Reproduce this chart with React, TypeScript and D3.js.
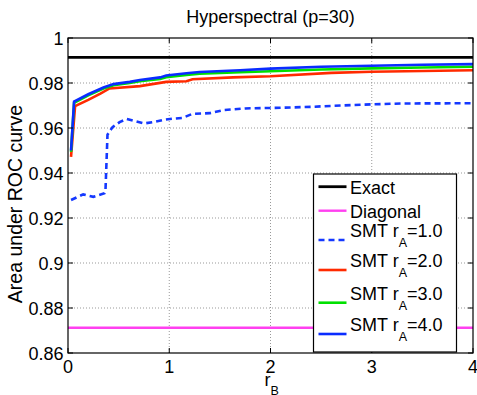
import React, { useRef, useEffect } from 'react';
import * as d3 from 'd3';

type Pt = [number, number];

// r_B vs area under ROC curve
const exactAuc = 0.9914;
const diagonalAuc = 0.8712;

const smt1: Pt[] = [
  [0.03, 0.928], [0.15, 0.9305], [0.25, 0.9294], [0.36, 0.931], [0.37, 0.932],
  [0.39, 0.957], [0.44, 0.9604], [0.51, 0.9626], [0.58, 0.964], [0.75, 0.962],
  [0.85, 0.9627], [0.95, 0.9637], [1.05, 0.9642], [1.13, 0.9645], [1.23, 0.9663],
  [1.4, 0.9666], [1.54, 0.968], [1.75, 0.9687], [2.1, 0.969], [2.4, 0.9694],
  [2.7, 0.97], [3.0, 0.9705], [3.3, 0.9709], [4.0, 0.971],
];

const smt2: Pt[] = [
  [0.03, 0.9472], [0.07, 0.9697], [0.2, 0.9725], [0.32, 0.9753], [0.41, 0.9776],
  [0.71, 0.9786], [0.97, 0.9805], [1.17, 0.9808], [1.23, 0.9817], [1.63, 0.9825],
  [2.0, 0.983], [2.6, 0.9845], [3.0, 0.985], [4.0, 0.9857],
];

const smt3: Pt[] = [
  [0.03, 0.9494], [0.06, 0.9712], [0.2, 0.9745], [0.35, 0.9775], [0.45, 0.979],
  [0.61, 0.98], [0.71, 0.9808], [0.91, 0.9818], [0.97, 0.9826], [1.17, 0.9836],
  [1.3, 0.9841], [1.7, 0.9848], [2.0, 0.9852], [2.5, 0.986], [3.0, 0.9865],
  [3.5, 0.9869], [4.0, 0.9872],
];

const smt4: Pt[] = [
  [0.03, 0.95], [0.06, 0.9717], [0.2, 0.975], [0.35, 0.978], [0.45, 0.9795],
  [0.61, 0.9805], [0.71, 0.9813], [0.91, 0.9825], [0.97, 0.9833], [1.17, 0.9843],
  [1.3, 0.9849], [1.7, 0.9857], [2.0, 0.9864], [2.5, 0.9872], [3.0, 0.9877],
  [3.5, 0.9881], [4.0, 0.9884],
];

const xTicks = [0, 1, 2, 3, 4];
const yTicks = [0.86, 0.88, 0.9, 0.92, 0.94, 0.96, 0.98, 1];

const font = "'Liberation Sans', Arial, Helvetica, sans-serif";

interface Series {
  label: string;
  sub?: string;
  subRest?: string;
  color: string;
  dashed?: boolean;
  width: number;
  data: Pt[];
}

export default function App() {
  const svgRef = useRef<SVGSVGElement>(null);

  useEffect(() => {
    if (!svgRef.current) return;
    const width = 477;
    const height = 395;
    const margin = { top: 38, right: 4, bottom: 42, left: 68 };

    const svg = d3.select(svgRef.current);
    svg.selectAll('*').remove();

    const x = d3.scaleLinear().domain([0, 4]).range([margin.left, width - margin.right]);
    const y = d3.scaleLinear().domain([0.86, 1]).range([height - margin.bottom, margin.top]);
    const [x0, x1] = x.range();
    const [y0, y1] = y.range();

    svg.append('rect').attr('width', width).attr('height', height).attr('fill', '#fff');

    // dotted grid
    xTicks.slice(1, -1).forEach((t) => {
      svg.append('line')
        .attr('x1', x(t)).attr('x2', x(t)).attr('y1', y0).attr('y2', y1)
        .attr('stroke', '#999').attr('stroke-width', 1).attr('stroke-dasharray', '1,2');
    });
    yTicks.slice(1, -1).forEach((t) => {
      svg.append('line')
        .attr('x1', x0).attr('x2', x1).attr('y1', y(t)).attr('y2', y(t))
        .attr('stroke', '#999').attr('stroke-width', 1).attr('stroke-dasharray', '1,2');
    });

    svg.append('clipPath').attr('id', 'plotclip')
      .append('rect').attr('x', x0).attr('y', y1).attr('width', x1 - x0).attr('height', y0 - y1);

    const series: Series[] = [
      { label: 'Exact', color: '#000000', width: 2.8, data: [[0, exactAuc], [4, exactAuc]] },
      { label: 'Diagonal', color: '#ff40f0', width: 2.4, data: [[0, diagonalAuc], [4, diagonalAuc]] },
      { label: 'SMT r', sub: 'A', subRest: '=1.0', color: '#1438ff', dashed: true, width: 2.6, data: smt1 },
      { label: 'SMT r', sub: 'A', subRest: '=2.0', color: '#ff2a00', width: 2.6, data: smt2 },
      { label: 'SMT r', sub: 'A', subRest: '=3.0', color: '#00e000', width: 2.6, data: smt3 },
      { label: 'SMT r', sub: 'A', subRest: '=4.0', color: '#0a2cff', width: 2.6, data: smt4 },
    ];

    const line = d3.line<Pt>().x((d) => x(d[0])).y((d) => y(d[1]));
    const plot = svg.append('g').attr('clip-path', 'url(#plotclip)');
    series.forEach((s) => {
      plot.append('path')
        .datum(s.data)
        .attr('fill', 'none')
        .attr('stroke', s.color)
        .attr('stroke-width', s.width)
        .attr('stroke-dasharray', s.dashed ? '6,4' : null)
        .attr('d', line);
    });

    // frame and inner ticks
    svg.append('rect')
      .attr('x', x0).attr('y', y1).attr('width', x1 - x0).attr('height', y0 - y1)
      .attr('fill', 'none').attr('stroke', '#000').attr('stroke-width', 1.2);
    const tl = 5;
    xTicks.forEach((t) => {
      svg.append('line').attr('x1', x(t)).attr('x2', x(t)).attr('y1', y0).attr('y2', y0 - tl).attr('stroke', '#000');
      svg.append('line').attr('x1', x(t)).attr('x2', x(t)).attr('y1', y1).attr('y2', y1 + tl).attr('stroke', '#000');
      svg.append('text')
        .attr('x', x(t)).attr('y', y0 + 19.5)
        .attr('text-anchor', 'middle')
        .attr('font-family', font).attr('font-size', 18)
        .text(String(t));
    });
    yTicks.forEach((t) => {
      svg.append('line').attr('x1', x0).attr('x2', x0 + tl).attr('y1', y(t)).attr('y2', y(t)).attr('stroke', '#000');
      svg.append('line').attr('x1', x1).attr('x2', x1 - tl).attr('y1', y(t)).attr('y2', y(t)).attr('stroke', '#000');
      svg.append('text')
        .attr('x', x0 - 4.5).attr('y', y(t) + 6.5)
        .attr('text-anchor', 'end')
        .attr('font-family', font).attr('font-size', 18)
        .text(d3.format('~g')(t));
    });

    // title and axis labels
    svg.append('text')
      .attr('x', (x0 + x1) / 2).attr('y', 23)
      .attr('text-anchor', 'middle')
      .attr('font-family', font).attr('font-size', 18)
      .text('Hyperspectral (p=30)');

    svg.append('text')
      .attr('transform', `translate(21.5,204) rotate(-90)`)
      .attr('text-anchor', 'middle')
      .attr('font-family', font).attr('font-size', 19.5)
      .text('Area under ROC curve');

    const xl = svg.append('text')
      .attr('x', x(2) - 6).attr('y', y0 + 33)
      .attr('font-family', font).attr('font-size', 18);
    xl.append('tspan').text('r');
    xl.append('tspan').attr('dy', 9).attr('font-size', 12.5).text('B');

    // legend
    const lg = { x: 313.5, y: 174, w: 143, h: 178 };
    svg.append('rect')
      .attr('x', lg.x).attr('y', lg.y).attr('width', lg.w).attr('height', lg.h)
      .attr('fill', '#fff').attr('stroke', '#000').attr('stroke-width', 1.2);
    const rowY = [12.7, 36.7, 66, 96, 128.7, 160];
    series.forEach((s, i) => {
      const ly = lg.y + rowY[i];
      svg.append('line')
        .attr('x1', lg.x + 5).attr('x2', lg.x + 33).attr('y1', ly).attr('y2', ly)
        .attr('stroke', s.color).attr('stroke-width', s.width)
        .attr('stroke-dasharray', s.dashed ? '6,4' : null);
      const tx = svg.append('text')
        .attr('x', lg.x + 36.5)
        .attr('font-family', font).attr('font-size', 18);
      if (s.sub) {
        tx.attr('y', ly - 2.7);
        tx.append('tspan').text(s.label);
        tx.append('tspan').attr('dy', 10).attr('font-size', 12.5).text(s.sub);
        tx.append('tspan').attr('dy', -10).text(s.subRest || '');
      } else {
        tx.attr('y', ly + 7).text(s.label);
      }
    });
  }, []);

  return (
    <svg
      ref={svgRef}
      width={477}
      height={395}
      style={{ position: 'absolute', left: 0, top: 0, background: '#fff' }}
    />
  );
}
